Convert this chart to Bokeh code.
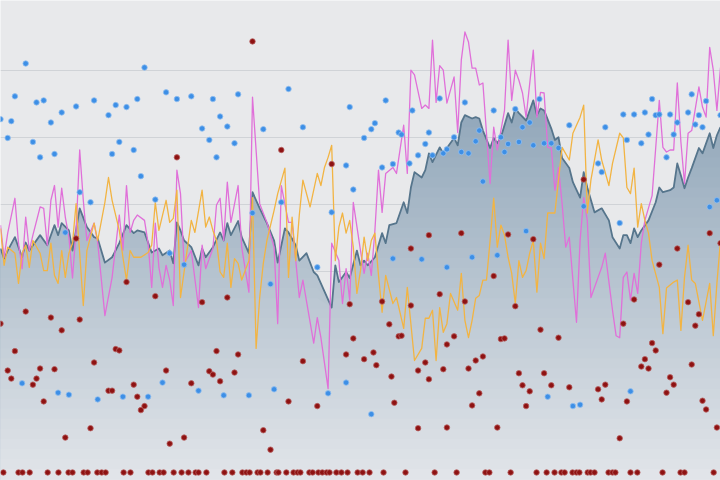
import numpy as np
from bokeh.plotting import figure
from bokeh.models import Range1d, FixedTicker
from bokeh.embed import file_html
from bokeh.resources import INLINE

# ---------------- data (x = sample index 0..200, y = value) ----------------
area_x = [0, 1, 2, 4, 6, 7, 8, 11, 13, 15,
          16, 17, 19, 20, 22, 24, 26, 27, 29, 31,
          33, 35, 37, 38, 40, 42, 44, 45, 47, 48,
          49, 50, 51, 53, 55, 56, 57, 59, 61, 62,
          63, 64, 66, 67, 69, 70, 72, 74, 76, 77,
          79, 80, 82, 83, 85, 87, 88, 92, 93, 94,
          96, 97, 99, 100, 101, 102, 104, 106, 107, 108,
          110, 112, 113, 114, 115, 117, 118, 119, 120, 122,
          123, 124, 126, 127, 128, 129, 131, 132, 133, 134,
          136, 137, 138, 139, 141, 142, 143, 144, 146, 148,
          149, 150, 151, 153, 154, 155, 156, 158, 159, 161,
          162, 163, 165, 167, 169, 170, 172, 173, 174, 175,
          176, 177, 178, 180, 182, 183, 184, 186, 187, 188,
          189, 190, 191, 192, 194, 195, 197, 198, 199, 200]
area_y = [33.4, 31.9, 33.1, 35.1, 32.1, 34.3, 33.1, 35.4, 33.9, 36.9,
          35.4, 37.2, 36.1, 33.1, 39.4, 36.6, 35.1, 34.9, 31.3, 32.1,
          34.2, 36.9, 35.7, 36.1, 35.8, 32.8, 33.4, 32.4, 33.1, 31.2,
          37.3, 36.1, 34.6, 33.6, 30.9, 33.4, 32.1, 33.6, 35.8, 34.6,
          37.2, 35.4, 37.5, 35.1, 32.7, 41.8, 39.4, 37.2, 34.6, 31.3,
          36.4, 35.8, 33.9, 31.6, 32.7, 29.9, 29.4, 24.6, 30.9, 28.4,
          29.9, 29.0, 33.1, 30.9, 31.6, 30.9, 32.1, 35.7, 34.2, 36.9,
          37.2, 40.3, 38.7, 42.5, 44.8, 44.0, 45.1, 47.6, 46.3, 48.5,
          47.6, 48.4, 49.9, 48.8, 52.2, 53.3, 52.8, 53.0, 52.8, 51.0,
          48.4, 49.9, 49.1, 50.0, 53.6, 52.2, 54.3, 53.6, 52.5, 55.5,
          53.3, 54.3, 54.0, 51.3, 49.6, 50.0, 46.9, 45.4, 43.3, 41.0,
          44.8, 42.5, 38.8, 39.4, 37.6, 35.1, 33.4, 35.4, 35.4, 34.2,
          36.4, 35.1, 36.1, 37.6, 40.3, 42.5, 41.8, 42.1, 42.5, 46.1,
          44.3, 42.4, 44.0, 45.4, 48.4, 47.6, 50.6, 48.4, 50.3, 51.5]

pink_x = [0, 1, 2, 4, 5, 6, 7, 8, 9, 11,
          12, 13, 14, 15, 16, 17, 18, 19, 20, 21,
          22, 23, 24, 26, 27, 29, 31, 33, 34, 35,
          36, 37, 38, 40, 41, 42, 43, 44, 45, 46,
          47, 48, 49, 50, 51, 52, 53, 55, 56, 57,
          59, 60, 61, 62, 63, 64, 66, 67, 69, 70,
          72, 74, 76, 77, 78, 80, 81, 83, 84, 87,
          88, 89, 91, 92, 94, 95, 96, 97, 98, 100,
          101, 102, 103, 104, 105, 106, 107, 109, 110, 112,
          113, 114, 115, 117, 118, 119, 120, 121, 122, 123,
          124, 126, 127, 128, 129, 130, 131, 132, 133, 134,
          136, 137, 138, 139, 140, 141, 142, 143, 144, 145,
          146, 148, 149, 150, 151, 152, 153, 154, 155, 156,
          157, 158, 159, 160, 161, 162, 163, 164, 166, 167,
          168, 170, 171, 172, 173, 174, 175, 176, 177, 178,
          179, 181, 182, 183, 184, 185, 186, 187, 188, 189,
          190, 191, 192, 194, 195, 196, 197, 198, 199, 200]
pink_y = [36.9, 32.1, 35.7, 40.9, 34.2, 30.4, 38.1, 33.1, 35.4, 39.6,
          39.4, 33.9, 40.6, 42.8, 36.6, 42.4, 38.1, 35.1, 29.0, 36.1,
          48.1, 40.6, 34.6, 37.2, 34.3, 23.4, 29.1, 38.4, 33.1, 42.8,
          35.8, 37.6, 38.4, 37.6, 34.2, 27.6, 37.2, 30.6, 27.6, 30.9,
          28.7, 24.9, 45.1, 41.6, 31.2, 32.1, 33.1, 24.6, 33.9, 30.4,
          33.4, 39.9, 40.9, 34.6, 43.3, 37.3, 42.8, 33.6, 26.9, 56.0,
          40.1, 37.3, 33.6, 22.2, 42.8, 37.3, 37.3, 26.1, 28.7, 19.3,
          23.1, 20.1, 12.5, 34.2, 31.6, 25.2, 30.4, 25.7, 40.3, 33.1,
          29.7, 32.7, 29.4, 36.1, 45.1, 38.8, 44.6, 45.5, 44.6, 51.8,
          44.6, 60.0, 59.3, 54.3, 54.8, 54.3, 64.5, 55.2, 60.7, 60.0,
          55.1, 59.0, 50.7, 61.5, 65.7, 64.2, 60.3, 60.3, 57.8, 58.1,
          43.1, 51.5, 48.1, 51.0, 54.0, 64.5, 55.5, 60.0, 58.5, 56.6,
          53.0, 63.0, 53.0, 56.7, 56.6, 48.5, 48.4, 42.1, 45.5, 40.1,
          33.6, 35.1, 28.7, 22.4, 34.6, 41.0, 37.6, 26.1, 29.1, 30.6,
          32.7, 24.2, 20.4, 20.1, 29.1, 29.9, 25.7, 29.7, 26.7, 34.2,
          37.6, 41.3, 48.4, 55.5, 48.5, 47.8, 48.1, 48.1, 58.1, 49.3,
          43.1, 50.6, 51.0, 57.5, 54.5, 53.0, 63.4, 60.0, 54.0, 60.4]

orange_x = [0, 1, 2, 4, 5, 6, 7, 8, 9, 11,
            12, 13, 14, 15, 16, 17, 18, 19, 20, 21,
            22, 23, 24, 26, 27, 29, 30, 31, 33, 34,
            35, 36, 37, 39, 41, 42, 43, 44, 46, 47,
            48, 49, 50, 53, 54, 56, 57, 58, 59, 60,
            61, 62, 63, 64, 65, 66, 67, 69, 70, 71,
            72, 73, 74, 76, 77, 79, 80, 81, 82, 83,
            84, 86, 88, 89, 90, 91, 92, 93, 94, 95,
            96, 97, 98, 99, 100, 101, 102, 103, 104, 105,
            106, 107, 109, 110, 112, 113, 115, 117, 118, 119,
            120, 121, 122, 123, 124, 125, 127, 128, 129, 130,
            131, 132, 133, 134, 135, 136, 137, 138, 139, 140,
            141, 142, 143, 144, 145, 146, 147, 148, 149, 150,
            151, 152, 154, 155, 156, 158, 159, 161, 162, 163,
            164, 166, 167, 169, 170, 172, 173, 174, 175, 176,
            177, 178, 179, 180, 181, 183, 184, 185, 187, 188,
            189, 190, 191, 192, 193, 195, 197, 198, 199, 200]
orange_y = [36.4, 30.9, 33.6, 32.7, 28.2, 32.7, 33.9, 30.6, 34.6, 32.7,
            30.1, 30.1, 34.2, 29.4, 28.2, 33.1, 29.1, 32.7, 34.2, 40.1,
            32.7, 24.9, 33.1, 37.2, 34.6, 40.3, 44.0, 40.6, 36.1, 32.1,
            28.7, 33.1, 32.1, 32.1, 32.8, 33.9, 40.3, 36.1, 40.6, 37.3,
            37.9, 42.1, 26.1, 37.6, 35.8, 42.1, 36.6, 38.1, 36.1, 34.6,
            29.9, 29.1, 34.2, 27.6, 31.9, 31.2, 28.7, 31.6, 41.0, 18.5,
            26.1, 31.2, 34.6, 39.1, 41.6, 45.4, 29.1, 38.1, 31.6, 38.4,
            43.6, 39.6, 44.6, 42.8, 45.5, 47.0, 48.8, 31.6, 36.6, 38.7,
            35.7, 37.6, 33.6, 26.7, 30.1, 35.1, 31.6, 34.6, 35.7, 29.4,
            23.9, 29.4, 25.2, 26.1, 21.5, 27.6, 16.7, 18.5, 23.0, 23.0,
            24.2, 16.7, 24.6, 20.9, 22.2, 26.7, 24.2, 29.7, 22.7, 20.1,
            22.7, 26.0, 26.4, 28.7, 28.7, 34.6, 40.9, 33.6, 36.9, 35.4,
            32.1, 29.7, 25.2, 31.6, 29.1, 30.1, 32.7, 34.6, 26.9, 34.2,
            31.9, 38.7, 38.7, 43.6, 48.5, 46.6, 50.6, 53.0, 54.8, 38.7,
            43.6, 49.6, 46.6, 42.8, 46.1, 50.6, 49.9, 42.5, 41.6, 45.4,
            36.6, 40.1, 37.6, 35.7, 31.6, 27.6, 20.7, 27.5, 28.4, 28.7,
            21.2, 29.1, 33.9, 28.7, 28.2, 22.7, 28.2, 20.4, 28.2, 34.6]

blue_x = [7, 40, 0, 3, 2, 4, 10, 12, 9, 11,
          14, 15, 17, 21, 26, 30, 32, 35, 38, 31,
          33, 37, 39, 46, 49, 22, 25, 43, 18, 53,
          59, 66, 56, 61, 63, 58, 60, 65, 73, 80,
          84, 97, 96, 98, 70, 78, 92, 107, 101, 103,
          104, 110.6, 111.4, 114.4, 122, 129, 106, 109, 113.6, 116,
          118, 119, 120, 123, 124, 126, 128, 130, 132, 133,
          134, 137, 139, 140, 141, 143, 144, 145, 147, 148,
          149.7, 146, 151, 153, 155, 158, 168, 166, 167, 173,
          176, 179, 174, 178, 180, 181, 182, 183, 186, 185,
          187, 188, 191, 192, 193, 194, 195, 196, 200, 162,
          197, 199, 172, 6, 16, 19, 27, 34, 41, 45,
          47, 51, 55, 62, 69, 75, 76, 88, 91, 96,
          109, 117, 124, 131, 138, 103, 152, 159, 161, 175]
blue_y = [61.0, 60.4, 52.7, 52.4, 49.9, 56.1, 55.2, 55.5, 49.3, 47.0,
          52.2, 47.5, 53.7, 54.6, 55.5, 53.3, 54.8, 54.5, 55.7, 47.5,
          49.3, 48.1, 44.2, 56.7, 55.7, 41.8, 40.3, 40.7, 35.8, 56.1,
          55.7, 56.4, 51.3, 53.1, 51.6, 49.6, 47.0, 49.1, 51.2, 57.2,
          51.5, 54.5, 45.8, 42.2, 38.7, 40.3, 38.8, 55.5, 49.9, 51.2,
          52.1, 50.7, 50.4, 54.0, 55.8, 55.2, 45.5, 46.0, 46.1, 47.3,
          49.0, 50.7, 47.3, 47.6, 48.2, 50.0, 47.8, 47.6, 49.4, 51.0,
          43.4, 54.0, 50.0, 47.8, 49.0, 54.2, 49.3, 51.5, 52.2, 48.8,
          55.7, 36.0, 49.1, 49.1, 48.4, 51.8, 51.5, 46.1, 44.8, 53.4,
          53.4, 53.7, 49.6, 49.1, 50.4, 55.7, 53.3, 53.4, 53.4, 47.0,
          50.4, 52.2, 53.7, 56.4, 51.9, 53.3, 51.5, 55.4, 53.3, 39.7,
          39.6, 40.6, 37.2, 13.3, 11.9, 11.6, 10.9, 11.3, 11.3, 13.4,
          32.7, 31.0, 12.2, 11.5, 11.5, 28.1, 12.4, 30.6, 11.8, 13.4,
          31.9, 31.8, 30.6, 32.1, 32.4, 8.7, 11.3, 9.9, 10.1, 12.1]

red_x = [70, 49, 78, 92, 162, 197, 200, 21, 119, 128,
         141, 148, 114, 188, 183, 137, 106, 114, 122, 129,
         143, 176, 191, 194, 193, 173, 150, 155, 181, 182,
         179, 178, 180, 192, 151, 153, 158, 168, 166, 167,
         174, 186, 187, 185, 195, 196, 199, 172, 108, 110.6,
         111.4, 124, 126, 101, 103.6, 104.4, 116, 118, 119, 123,
         130, 132, 134, 108.6, 109.4, 133, 131, 139, 140, 144,
         145, 147, 146, 116, 124, 138, 0, 7, 14, 17,
         22, 4, 32, 33, 2, 3, 11, 15, 10, 9,
         26, 12, 30, 31, 37, 38, 40, 39, 46, 35,
         43, 25, 18, 47, 56, 63, 51, 53, 60, 66,
         58, 59, 61, 65, 73, 75, 80, 84, 88, 96,
         97, 98]
red_y = [64.3, 47.0, 48.1, 46.0, 43.7, 35.7, 34.2, 34.9, 35.4, 35.7,
         35.5, 34.8, 33.4, 33.4, 31.0, 29.3, 25.5, 24.9, 26.6, 25.5,
         24.8, 25.8, 25.4, 23.6, 21.9, 22.2, 21.3, 20.1, 19.3, 18.2,
         16.9, 15.8, 15.5, 16.1, 14.8, 13.0, 12.7, 13.1, 12.4, 10.9,
         10.6, 14.2, 13.1, 11.9, 10.7, 9.4, 6.7, 5.1, 22.1, 20.3,
         20.4, 19.1, 20.3, 16.9, 17.9, 16.0, 15.2, 16.4, 13.9, 15.4,
         15.5, 16.7, 17.3, 14.3, 10.4, 11.8, 10.0, 19.9, 20.0, 14.8,
         13.0, 12.1, 9.9, 6.6, 6.7, 6.7, 22.2, 24.0, 23.1, 21.2,
         22.8, 18.1, 18.4, 18.2, 15.2, 14.0, 15.5, 15.4, 14.0, 13.1,
         16.4, 10.6, 12.2, 12.2, 13.1, 11.3, 9.9, 9.3, 15.2, 28.4,
         26.3, 6.6, 5.2, 4.3, 25.4, 26.1, 5.2, 13.3, 18.1, 17.6,
         15.1, 14.6, 13.6, 14.9, 6.3, 3.4, 10.6, 16.6, 9.9, 17.6,
         25.1, 20.0]

red_floor_x = [0.8, 5.0, 6.1, 8.1, 13.1, 16.1, 18.9, 20.0, 23.1, 24.2,
               26.9, 28.1, 29.2, 34.2, 36.1, 41.1, 42.2, 44.2, 45.3, 48.1,
               50.3, 52.2, 54.2, 55.0, 57.2, 62.2, 64.4, 67.2, 68.3, 69.2,
               71.4, 72.2, 74.2, 76.7, 77.2, 79.4, 81.4, 82.5, 83.3, 85.8,
               86.7, 88.3, 89.4, 90.6, 91.4, 93.3, 94.7, 96.4, 99.2, 100.6,
               102.5, 106.4, 112.5, 120.6, 126.7, 134.7, 135.8, 141.7, 148.9, 151.7,
               153.9, 155.8, 156.7, 158.9, 160.0, 160.8, 163.1, 163.9, 165.0, 168.9,
               170.0, 170.8, 175.0, 176.9, 183.9, 188.9, 190.0, 198.1]
red_floor_y = [0, 0, 0, 0, 0, 0, 0, 0, 0, 0,
               0, 0, 0, 0, 0, 0, 0, 0, 0, 0,
               0, 0, 0, 0, 0, 0, 0, 0, 0, 0,
               0, 0, 0, 0, 0, 0, 0, 0, 0, 0,
               0, 0, 0, 0, 0, 0, 0, 0, 0, 0,
               0, 0, 0, 0, 0, 0, 0, 0, 0, 0,
               0, 0, 0, 0, 0, 0, 0, 0, 0, 0,
               0, 0, 0, 0, 0, 0, 0, 0]

grid_ticks = [0, 10, 20, 30, 40, 50, 60]

# ---------------- styling ----------------
BG = "#e8e9eb"
GRAD_TOP = "#90a6b9"
GRAD_BOTTOM = "#e3e6ea"
Y_MIN, Y_MAX = -1.2, 70.4


def mix(c1, c2, t):
    a = [int(c1[i:i + 2], 16) for i in (1, 3, 5)]
    b = [int(c2[i:i + 2], 16) for i in (1, 3, 5)]
    return "#%02x%02x%02x" % tuple(int(round(a[k] + (b[k] - a[k]) * t)) for k in range(3))


p = figure(width=720, height=480, x_range=Range1d(0, 200), y_range=Range1d(Y_MIN, Y_MAX),
           output_backend="svg", toolbar_location=None, min_border=0,
           background_fill_color=BG, border_fill_color=BG, outline_line_color=None)
p.xaxis.visible = False
p.yaxis.visible = False
p.xgrid.visible = False
p.ygrid.ticker = FixedTicker(ticks=grid_ticks)
p.ygrid.grid_line_color = "#d0d3d7"
p.ygrid.grid_line_width = 1

# gradient-filled area built from stacked clipped layers
top_level = 56.0
span = top_level - Y_MIN
area_arr = np.array(area_y)
p.varea(x=area_x, y1=Y_MIN, y2=area_y, fill_color=GRAD_TOP, fill_alpha=1.0)
level = top_level - 1.5
while level > Y_MIN:
    col = mix(GRAD_TOP, GRAD_BOTTOM, (top_level - level) / span)
    p.varea(x=area_x, y1=Y_MIN, y2=np.minimum(area_arr, level).tolist(), fill_color=col, fill_alpha=1.0)
    level -= 1.5

p.line(area_x, area_y, line_color="#56758c", line_width=1.8, line_join="round")
p.line(pink_x, pink_y, line_color="#e070d9", line_width=1.3, line_join="round")
p.line(orange_x, orange_y, line_color="#f2b443", line_width=1.3, line_join="round")

p.scatter(blue_x, blue_y, size=5.5, fill_color="#3d8fe6", line_color="#93bfef", line_width=0.8)
p.scatter(red_x, red_y, size=5.5, fill_color="#8e1212", line_color="#b86262", line_width=0.8)
p.scatter(red_floor_x, red_floor_y, size=5.5, fill_color="#8e1212", line_color="#b86262", line_width=0.8)

html = file_html(p, INLINE)
html = html.replace("<head>", "<head><style>html,body{margin:0;padding:0;overflow:hidden}</style>", 1)
open("out.html", "w").write(html)
